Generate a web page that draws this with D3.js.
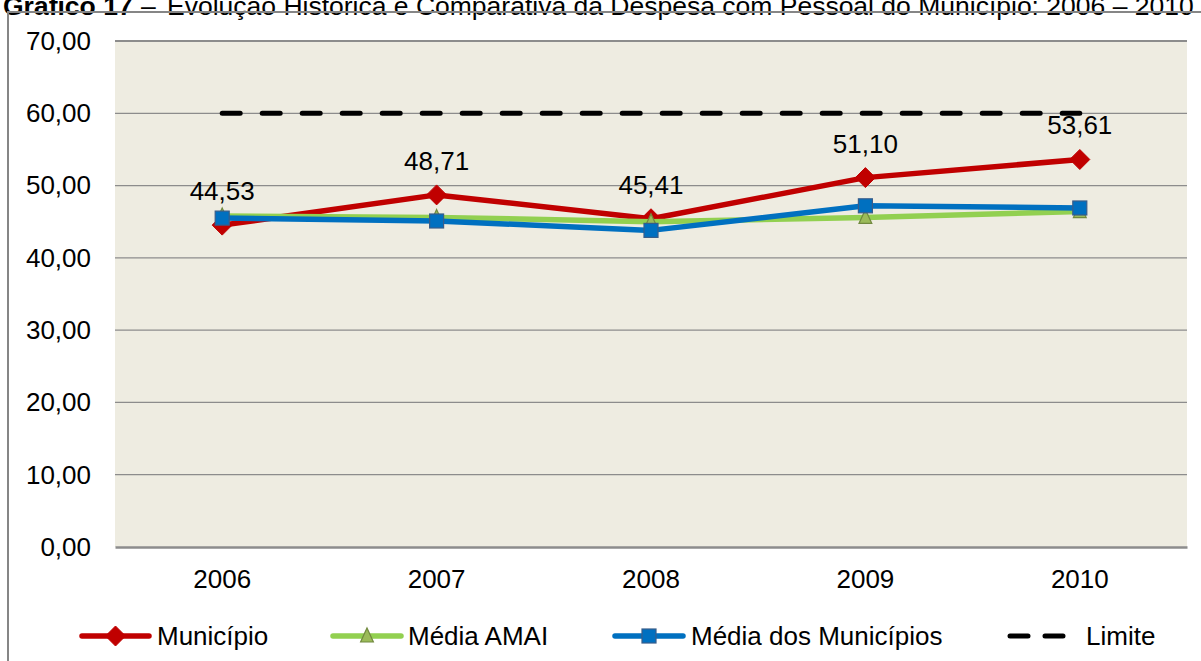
<!DOCTYPE html>
<html>
<head>
<meta charset="utf-8">
<script src="https://cdn.jsdelivr.net/npm/d3@7"></script>
<style>
  html, body { margin: 0; padding: 0; background: #fff; }
  svg { display: block; }
  text { font-family: "Liberation Sans", Arial, sans-serif; fill: #000; }
</style>
</head>
<body>
<svg id="chart" width="1201" height="661"></svg>
<script>
const years = ["2006", "2007", "2008", "2009", "2010"];
const municipio = [44.53, 48.71, 45.41, 51.10, 53.61];
const mediaAmai = [45.8, 45.6, 45.0, 45.6, 46.4];
const mediaMunicipios = [45.5, 45.1, 43.8, 47.2, 46.9];
const limite = [60, 60, 60, 60, 60];
const yTicks = [0, 10, 20, 30, 40, 50, 60, 70];
const seriesNames = ["Município", "Média AMAI", "Média dos Municípios", "Limite"];
const titleBold = "Gráfico 17";
const titleRest = "Evolução Histórica e Comparativa da Despesa com Pessoal do Município: 2006 – 2010";

const svg = d3.select("#chart");
const fmt = v => d3.format(".2f")(v).replace(".", ",");
const FS = "26px";

const plot = { left: 115, right: 1187, top: 41, bottom: 547 };
const x = d3.scaleBand().domain(years).range([plot.left, plot.right]);
const cx = d => x(d) + x.bandwidth() / 2;
const y = d3.scaleLinear().domain([0, 70]).range([plot.bottom, plot.top]);

// Title (clipped at top, as in the reference)
const title = svg.append("text").attr("x", 3).attr("y", 15).style("font-size", "26.5px");
title.append("tspan").style("font-weight", "bold").text(titleBold);
title.append("tspan").attr("x", 141).text("–");
title.append("tspan").attr("x", 167).text(titleRest);

// Outer chart border
svg.append("rect").attr("x", 8).attr("y", 12).attr("width", 1300).attr("height", 800)
  .attr("fill", "none").attr("stroke", "#868686").attr("stroke-width", 2);

// Plot background
svg.append("rect").attr("x", plot.left).attr("y", plot.top)
  .attr("width", plot.right - plot.left).attr("height", plot.bottom - plot.top)
  .attr("fill", "#EEECE1");

// Gridlines
svg.append("g").selectAll("line").data(yTicks.filter(t => t > 0)).join("line")
  .attr("x1", plot.left).attr("x2", plot.right)
  .attr("y1", d => y(d)).attr("y2", d => y(d))
  .attr("stroke", "#8c8c8c").attr("stroke-width", d => d === 70 ? 2 : 1.3);

// Y axis labels
const yAxis = d3.axisLeft(y).tickValues(yTicks).tickFormat(fmt).tickSize(0).tickPadding(0);
const gy = svg.append("g").attr("transform", `translate(91,0)`).call(yAxis);
gy.select(".domain").remove();
gy.selectAll("text").style("font-size", FS).attr("font-family", null).attr("fill", "#000");

// X axis
const xAxis = d3.axisBottom(x).tickSize(0).tickPadding(0);
const gx = svg.append("g").attr("transform", `translate(0,${plot.bottom})`).call(xAxis);
gx.select(".domain").attr("stroke", "#8c8c8c").attr("stroke-width", 2.5);
gx.selectAll("text").style("font-size", FS).attr("font-family", null).attr("fill", "#000")
  .attr("dy", null).attr("y", 41);

const line = d3.line().x((d, i) => cx(years[i])).y(d => y(d));

function diamond(g, px, py, s, fill) {
  g.append("path").attr("d", `M${px},${py - s}L${px + s},${py}L${px},${py + s}L${px - s},${py}Z`)
    .attr("fill", fill).attr("stroke", fill).attr("stroke-width", 1);
}
function square(g, px, py, s, fill, stroke) {
  g.append("rect").attr("x", px - s).attr("y", py - s).attr("width", 2 * s).attr("height", 2 * s)
    .attr("fill", fill).attr("stroke", stroke).attr("stroke-width", 1.2);
}
function triangle(g, px, py, s, fill, stroke) {
  g.append("path").attr("d", `M${px},${py - s}L${px + s * 0.8},${py + s * 0.75}L${px - s * 0.8},${py + s * 0.75}Z`)
    .attr("fill", fill).attr("stroke", stroke).attr("stroke-width", 1.2);
}

// Município
const gM = svg.append("g");
gM.append("path").datum(municipio).attr("d", line).attr("fill", "none")
  .attr("stroke", "#C00000").attr("stroke-width", 5.5).attr("stroke-linejoin", "round");
municipio.forEach((v, i) => diamond(gM, cx(years[i]), y(v), 10, "#C00000"));

// Média AMAI
const gA = svg.append("g");
gA.append("path").datum(mediaAmai).attr("d", line).attr("fill", "none")
  .attr("stroke", "#92D050").attr("stroke-width", 5.5).attr("stroke-linejoin", "round");
mediaAmai.forEach((v, i) => triangle(gA, cx(years[i]), y(v), 8, "#9BBB59", "#71893F"));

// Média dos Municípios
const gB = svg.append("g");
gB.append("path").datum(mediaMunicipios).attr("d", line).attr("fill", "none")
  .attr("stroke", "#0070C0").attr("stroke-width", 5.5).attr("stroke-linejoin", "round");
mediaMunicipios.forEach((v, i) => square(gB, cx(years[i]), y(v), 7, "#0070C0", "#385D8A"));

// Limite
svg.append("path").datum(limite).attr("d", line).attr("fill", "none")
  .attr("stroke", "#000").attr("stroke-width", 5).attr("stroke-linecap", "round")
  .attr("stroke-dasharray", "18,22");

// Data labels for Município
svg.append("g").selectAll("text").data(municipio).join("text")
  .attr("x", (d, i) => cx(years[i])).attr("y", d => y(d) - 25)
  .attr("text-anchor", "middle").style("font-size", FS).text(fmt);

// Legend
const legend = [
  { name: seriesNames[0], x1: 80, x2: 151, color: "#C00000", tx: 157, m: "d" },
  { name: seriesNames[1], x1: 331, x2: 403, color: "#92D050", tx: 408, m: "t" },
  { name: seriesNames[2], x1: 613, x2: 685, color: "#0070C0", tx: 691, m: "s" },
  { name: seriesNames[3], x1: 1008, x2: 1073, color: "#000", tx: 1086, m: "l" }
];
const ly = 636;
const gL = svg.append("g");
legend.forEach(l => {
  if (l.m === "l") {
    gL.append("line").attr("x1", l.x1 + 2).attr("x2", l.x2 - 5).attr("y1", ly).attr("y2", ly)
      .attr("stroke", "#000").attr("stroke-width", 5).attr("stroke-linecap", "round")
      .attr("stroke-dasharray", "18,17");
  } else {
    gL.append("line").attr("x1", l.x1 + 2).attr("x2", l.x2 - 2).attr("y1", ly).attr("y2", ly)
      .attr("stroke", l.color).attr("stroke-width", 5.5).attr("stroke-linecap", "round");
    const mx = (l.x1 + l.x2) / 2;
    if (l.m === "d") diamond(gL, mx, ly, 10, "#C00000");
    if (l.m === "t") triangle(gL, mx, ly, 8, "#9BBB59", "#71893F");
    if (l.m === "s") square(gL, mx, ly, 7, "#0070C0", "#385D8A");
  }
  gL.append("text").attr("x", l.tx).attr("y", ly + 9).style("font-size", FS).text(l.name);
});
</script>
</body>
</html>
